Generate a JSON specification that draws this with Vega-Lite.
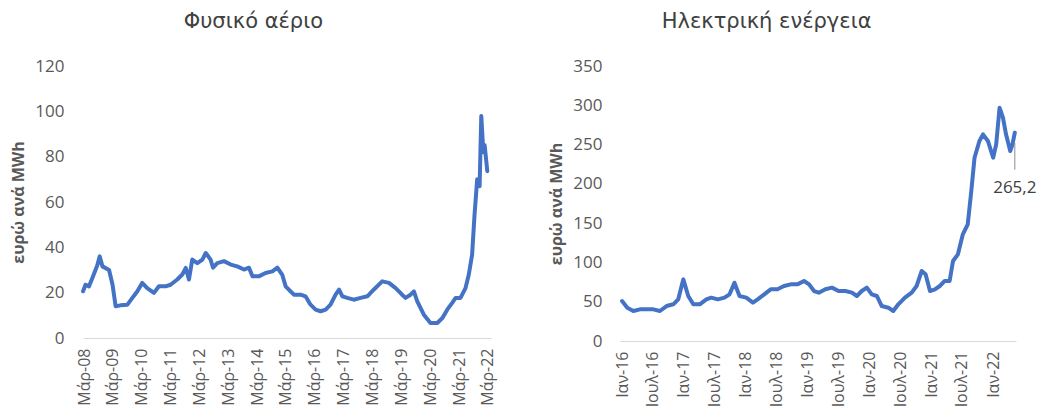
{
  "$schema": "https://vega.github.io/schema/vega-lite/v6.json",
  "padding": {"left": 10, "top": 11, "right": 0, "bottom": 0},
  "background": "white",
  "spacing": 52,
  "config": {
    "view": {"stroke": null},
    "font": "Open Sans",
    "title": {"fontSize": 21, "font": "DejaVu Sans", "fontWeight": "normal", "color": "#404040", "frame": "bounds", "anchor": "middle", "offset": 25},
    "axis": {"labelColor": "#595959", "titleColor": "#595959", "labelFontSize": 17, "ticks": false, "grid": false, "titleFontSize": 16, "titleFontWeight": "bold"}
  },
  "datasets": {
    "gas": [
      {"date": "2008-02-18", "value": 20.6},
      {"date": "2008-03-20", "value": 23.5},
      {"date": "2008-05-03", "value": 22.8},
      {"date": "2008-06-15", "value": 26.5},
      {"date": "2008-08-15", "value": 32.0},
      {"date": "2008-09-15", "value": 36.0},
      {"date": "2008-10-20", "value": 31.6},
      {"date": "2009-01-12", "value": 30.0},
      {"date": "2009-02-25", "value": 23.5},
      {"date": "2009-04-05", "value": 14.0},
      {"date": "2009-06-05", "value": 14.4},
      {"date": "2009-09-01", "value": 14.7},
      {"date": "2009-11-03", "value": 17.7},
      {"date": "2010-01-05", "value": 20.6},
      {"date": "2010-03-07", "value": 24.3},
      {"date": "2010-05-10", "value": 22.0},
      {"date": "2010-08-03", "value": 19.9},
      {"date": "2010-10-05", "value": 22.8},
      {"date": "2010-12-28", "value": 22.8},
      {"date": "2011-03-01", "value": 23.5},
      {"date": "2011-05-25", "value": 25.8},
      {"date": "2011-07-28", "value": 28.0},
      {"date": "2011-09-10", "value": 30.9},
      {"date": "2011-10-20", "value": 25.8},
      {"date": "2011-12-01", "value": 34.6},
      {"date": "2012-02-03", "value": 33.0},
      {"date": "2012-04-07", "value": 34.6},
      {"date": "2012-05-20", "value": 37.5},
      {"date": "2012-07-20", "value": 34.6},
      {"date": "2012-08-20", "value": 31.0},
      {"date": "2012-10-13", "value": 33.0},
      {"date": "2013-01-05", "value": 33.9},
      {"date": "2013-04-01", "value": 32.4},
      {"date": "2013-06-22", "value": 31.6},
      {"date": "2013-09-15", "value": 30.2},
      {"date": "2013-11-18", "value": 31.0},
      {"date": "2014-01-01", "value": 27.2},
      {"date": "2014-03-22", "value": 27.2},
      {"date": "2014-06-15", "value": 28.7},
      {"date": "2014-09-10", "value": 29.4},
      {"date": "2014-11-12", "value": 31.0},
      {"date": "2015-01-12", "value": 28.0},
      {"date": "2015-02-25", "value": 22.8},
      {"date": "2015-04-28", "value": 20.6},
      {"date": "2015-06-10", "value": 19.1},
      {"date": "2015-09-03", "value": 19.1},
      {"date": "2015-11-03", "value": 18.4},
      {"date": "2016-01-06", "value": 14.7},
      {"date": "2016-03-10", "value": 12.5},
      {"date": "2016-05-12", "value": 11.8},
      {"date": "2016-07-15", "value": 12.5},
      {"date": "2016-09-15", "value": 14.7},
      {"date": "2016-11-18", "value": 19.1},
      {"date": "2017-01-01", "value": 21.3},
      {"date": "2017-02-12", "value": 18.4},
      {"date": "2017-04-15", "value": 17.7},
      {"date": "2017-07-06", "value": 16.9},
      {"date": "2017-10-01", "value": 17.7},
      {"date": "2017-12-25", "value": 18.4},
      {"date": "2018-03-15", "value": 21.3},
      {"date": "2018-07-01", "value": 25.0},
      {"date": "2018-09-25", "value": 24.3},
      {"date": "2018-12-18", "value": 22.0},
      {"date": "2019-03-10", "value": 19.1},
      {"date": "2019-04-22", "value": 17.7},
      {"date": "2019-06-25", "value": 19.1},
      {"date": "2019-08-06", "value": 20.6},
      {"date": "2019-09-18", "value": 16.2},
      {"date": "2019-12-10", "value": 10.3},
      {"date": "2020-03-03", "value": 6.6},
      {"date": "2020-05-28", "value": 6.6},
      {"date": "2020-08-01", "value": 8.8},
      {"date": "2020-10-01", "value": 12.5},
      {"date": "2020-12-03", "value": 15.5},
      {"date": "2021-01-15", "value": 17.7},
      {"date": "2021-03-18", "value": 17.7},
      {"date": "2021-05-20", "value": 22.0},
      {"date": "2021-07-01", "value": 28.0},
      {"date": "2021-08-12", "value": 36.8},
      {"date": "2021-09-12", "value": 54.5},
      {"date": "2021-10-15", "value": 70.0},
      {"date": "2021-11-15", "value": 67.0},
      {"date": "2021-12-06", "value": 97.9},
      {"date": "2022-01-01", "value": 82.0},
      {"date": "2022-01-18", "value": 85.0},
      {"date": "2022-02-20", "value": 73.6}
    ],
    "power": [
      {"date": "2016-01-01", "value": 50.9},
      {"date": "2016-02-01", "value": 42.4},
      {"date": "2016-03-08", "value": 38.2},
      {"date": "2016-04-16", "value": 40.3},
      {"date": "2016-05-25", "value": 40.3},
      {"date": "2016-07-04", "value": 40.3},
      {"date": "2016-08-12", "value": 38.2},
      {"date": "2016-09-20", "value": 44.5},
      {"date": "2016-10-30", "value": 46.7},
      {"date": "2016-11-28", "value": 53.0},
      {"date": "2016-12-28", "value": 78.5},
      {"date": "2017-01-26", "value": 57.3},
      {"date": "2017-02-25", "value": 46.7},
      {"date": "2017-04-04", "value": 46.7},
      {"date": "2017-05-13", "value": 53.0},
      {"date": "2017-06-11", "value": 55.2},
      {"date": "2017-07-20", "value": 53.0},
      {"date": "2017-08-28", "value": 55.2},
      {"date": "2017-09-27", "value": 59.4},
      {"date": "2017-10-26", "value": 74.2},
      {"date": "2017-11-25", "value": 57.3},
      {"date": "2018-01-04", "value": 55.2},
      {"date": "2018-02-12", "value": 48.8},
      {"date": "2018-03-12", "value": 53.0},
      {"date": "2018-04-20", "value": 59.4},
      {"date": "2018-05-28", "value": 65.8},
      {"date": "2018-07-07", "value": 65.8},
      {"date": "2018-08-15", "value": 70.0},
      {"date": "2018-09-23", "value": 72.1},
      {"date": "2018-11-02", "value": 72.1},
      {"date": "2018-12-11", "value": 76.4},
      {"date": "2019-01-10", "value": 72.1},
      {"date": "2019-02-08", "value": 63.6},
      {"date": "2019-03-08", "value": 61.5},
      {"date": "2019-04-16", "value": 65.8},
      {"date": "2019-05-25", "value": 67.9},
      {"date": "2019-07-03", "value": 63.6},
      {"date": "2019-08-12", "value": 63.6},
      {"date": "2019-09-20", "value": 61.5},
      {"date": "2019-10-19", "value": 57.3},
      {"date": "2019-11-17", "value": 63.6},
      {"date": "2019-12-17", "value": 67.9},
      {"date": "2020-01-15", "value": 59.4},
      {"date": "2020-02-14", "value": 57.3},
      {"date": "2020-03-14", "value": 44.5},
      {"date": "2020-04-22", "value": 42.4},
      {"date": "2020-05-21", "value": 38.2},
      {"date": "2020-06-20", "value": 46.7},
      {"date": "2020-07-29", "value": 55.2},
      {"date": "2020-09-07", "value": 61.5},
      {"date": "2020-10-06", "value": 70.0},
      {"date": "2020-11-05", "value": 89.1},
      {"date": "2020-11-28", "value": 84.9},
      {"date": "2020-12-24", "value": 63.6},
      {"date": "2021-01-22", "value": 65.8},
      {"date": "2021-02-20", "value": 70.0},
      {"date": "2021-03-21", "value": 76.4},
      {"date": "2021-04-19", "value": 76.4},
      {"date": "2021-05-09", "value": 101.8},
      {"date": "2021-06-07", "value": 110.3},
      {"date": "2021-07-06", "value": 135.8},
      {"date": "2021-08-04", "value": 148.5},
      {"date": "2021-08-25", "value": 190.9},
      {"date": "2021-09-13", "value": 233.3},
      {"date": "2021-10-12", "value": 254.6},
      {"date": "2021-11-02", "value": 263.0},
      {"date": "2021-12-01", "value": 254.6},
      {"date": "2022-01-01", "value": 233.3},
      {"date": "2022-01-19", "value": 250.3},
      {"date": "2022-02-08", "value": 297.0},
      {"date": "2022-02-28", "value": 284.2},
      {"date": "2022-03-18", "value": 263.0},
      {"date": "2022-04-12", "value": 241.8},
      {"date": "2022-04-25", "value": 250.3},
      {"date": "2022-05-09", "value": 265.2}
    ],
    "powerLabel": [
      {"date": "2022-05-09", "value": 265.2, "label": "265,2"}
    ]
  },
  "hconcat": [
    {
      "title": {"text": "Φυσικό αέριο"},
      "width": 408,
      "height": 272,
      "data": {"name": "gas"},
      "mark": {"type": "line", "color": "#4472C4", "strokeWidth": 4, "strokeJoin": "round", "strokeCap": "round"},
      "encoding": {
        "x": {
          "field": "date", "type": "temporal",
          "scale": {"domain": ["2008-02-17", "2022-04-08"]},
          "axis": {
            "title": null,
            "domainColor": "#D9D9D9",
            "labelAngle": -90,
            "labelFontSize": 16,
            "labelPadding": 10,
            "labelOverlap": false,
            "values": [
              {"year": 2008, "month": 3, "date": 1}, {"year": 2009, "month": 3, "date": 1}, {"year": 2010, "month": 3, "date": 1},
              {"year": 2011, "month": 3, "date": 1}, {"year": 2012, "month": 3, "date": 1}, {"year": 2013, "month": 3, "date": 1},
              {"year": 2014, "month": 3, "date": 1}, {"year": 2015, "month": 3, "date": 1}, {"year": 2016, "month": 3, "date": 1},
              {"year": 2017, "month": 3, "date": 1}, {"year": 2018, "month": 3, "date": 1}, {"year": 2019, "month": 3, "date": 1},
              {"year": 2020, "month": 3, "date": 1}, {"year": 2021, "month": 3, "date": 1}, {"year": 2022, "month": 3, "date": 1}
            ],
            "labelExpr": "['Ιαν','Φεβ','Μάρ','Απρ','Μάι','Ιουν','Ιουλ','Αυγ','Σεπ','Οκτ','Νοε','Δεκ'][month(datum.value)] + '-' + timeFormat(datum.value, '%y')"
          }
        },
        "y": {
          "field": "value", "type": "quantitative",
          "scale": {"domain": [0, 120], "nice": false},
          "axis": {"title": "ευρώ ανά MWh", "domain": false, "values": [0, 20, 40, 60, 80, 100, 120], "labelPadding": 19, "titlePadding": 8, "labelOverlap": false}
        }
      }
    },
    {
      "title": {"text": "Ηλεκτρική ενέργεια", "dx": -26},
      "width": 396,
      "height": 275,
      "encoding": {
        "x": {
          "field": "date", "type": "temporal",
          "scale": {"domain": ["2015-12-20", "2022-05-16"]},
          "axis": {
            "title": null,
            "domainColor": "#D9D9D9",
            "labelAngle": -90,
            "labelFontSize": 16,
            "labelPadding": 10,
            "labelOverlap": false,
            "values": [
              {"year": 2016, "month": 1, "date": 1}, {"year": 2016, "month": 7, "date": 1},
              {"year": 2017, "month": 1, "date": 1}, {"year": 2017, "month": 7, "date": 1},
              {"year": 2018, "month": 1, "date": 1}, {"year": 2018, "month": 7, "date": 1},
              {"year": 2019, "month": 1, "date": 1}, {"year": 2019, "month": 7, "date": 1},
              {"year": 2020, "month": 1, "date": 1}, {"year": 2020, "month": 7, "date": 1},
              {"year": 2021, "month": 1, "date": 1}, {"year": 2021, "month": 7, "date": 1},
              {"year": 2022, "month": 1, "date": 1}
            ],
            "labelExpr": "['Ιαν','Φεβ','Μάρ','Απρ','Μάι','Ιουν','Ιουλ','Αυγ','Σεπ','Οκτ','Νοε','Δεκ'][month(datum.value)] + '-' + timeFormat(datum.value, '%y')"
          }
        },
        "y": {
          "field": "value", "type": "quantitative",
          "scale": {"domain": [0, 350], "nice": false},
          "axis": {"title": "ευρώ ανά MWh", "domain": false, "values": [0, 50, 100, 150, 200, 250, 300, 350], "labelPadding": 18, "titlePadding": 8, "labelOverlap": false}
        }
      },
      "layer": [
        {
          "data": {"name": "power"},
          "mark": {"type": "line", "color": "#4472C4", "strokeWidth": 4, "strokeJoin": "round", "strokeCap": "round"}
        },
        {
          "data": {"name": "powerLabel"},
          "mark": {"type": "rule", "color": "#8C8C8C", "strokeWidth": 1},
          "encoding": {
            "y": {"datum": 252},
            "y2": {"datum": 218}
          }
        },
        {
          "data": {"name": "powerLabel"},
          "mark": {"type": "text", "color": "#404040", "fontSize": 17, "align": "center", "dy": 55},
          "encoding": {
            "text": {"field": "label"}
          }
        }
      ]
    }
  ]
}
